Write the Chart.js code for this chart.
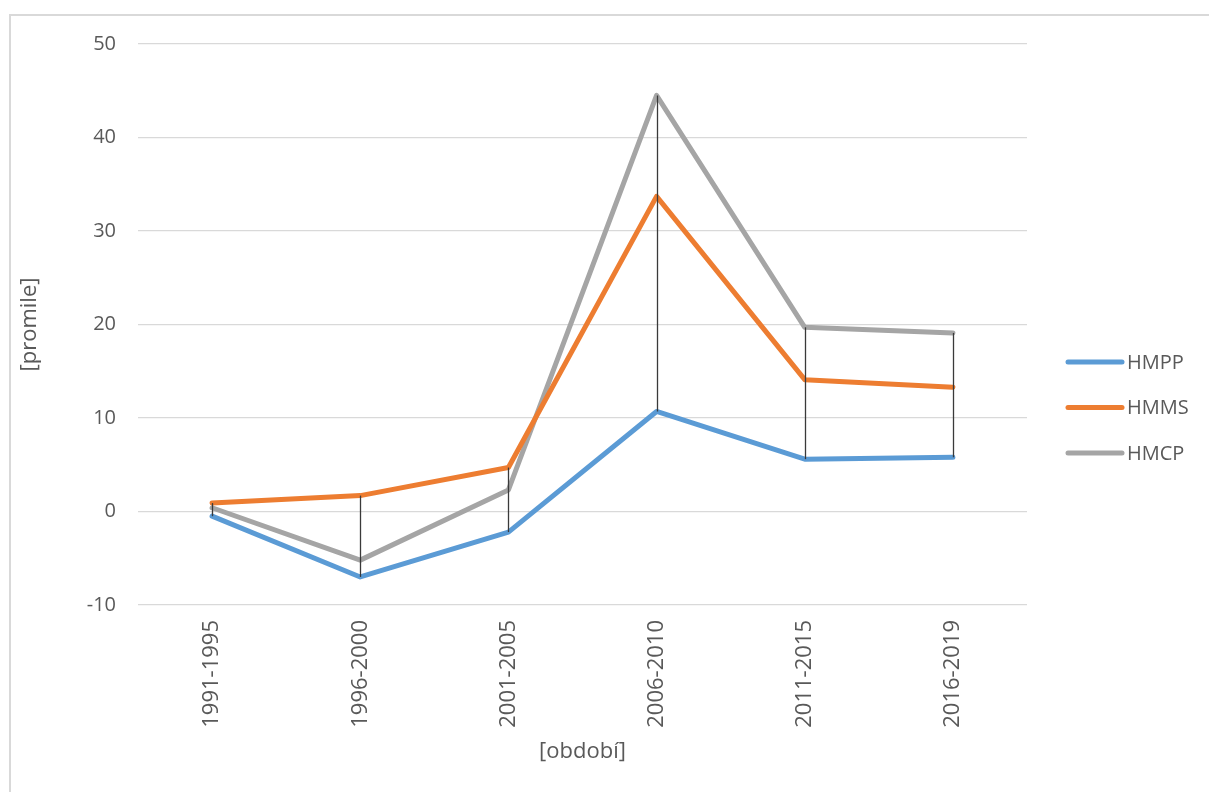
<!DOCTYPE html>
<html>
<head>
<meta charset="utf-8">
<script src="https://cdn.jsdelivr.net/npm/chart.js@4/dist/chart.umd.min.js"></script>
<style>
  html, body { margin: 0; padding: 0; background: #fff; }
  #wrap { position: relative; width: 1209px; height: 792px; overflow: hidden; }
  #frame { position: absolute; left: 9px; top: 14px; width: 1400px; height: 1000px;
           border-left: 2px solid #d9d9d9; border-top: 2px solid #d9d9d9; }
  canvas { position: absolute; left: 0; top: 0; }
</style>
</head>
<body>
<div id="wrap">
  <div id="frame"></div>
  <canvas id="chart" width="1209" height="792"></canvas>
</div>
<script>
// Periods on the category axis
const periods = ['1991-1995', '1996-2000', '2001-2005', '2006-2010', '2011-2015', '2016-2019'];

// Series values in per mille
const hmpp = [-0.5, -7.0, -2.2, 10.7, 5.6, 5.8];
const hmms = [0.9, 1.7, 4.7, 33.7, 14.1, 13.3];
const hmcp = [0.4, -5.2, 2.3, 44.5, 19.7, 19.1];

// Value axis range and step
const yMin = -10;
const yMax = 50;
const yStep = 10;

const FONT = "'Open Sans', 'Liberation Sans', sans-serif";
const TEXT = '#595959';

// Vertical high-low line at each period, from the lowest to the highest series value
const highLowLines = {
  id: 'highLowLines',
  afterDatasetsDraw(chart) {
    const { ctx, scales: { x, y } } = chart;
    const sets = chart.data.datasets.map(d => d.data);
    ctx.save();
    ctx.strokeStyle = '#3a3a3a';
    ctx.lineWidth = 1.3;
    periods.forEach((p, i) => {
      const vals = sets.map(s => s[i]);
      const px = Math.round(x.getPixelForValue(i)) + 0.5;
      ctx.beginPath();
      ctx.moveTo(px, y.getPixelForValue(Math.max(...vals)));
      ctx.lineTo(px, y.getPixelForValue(Math.min(...vals)));
      ctx.stroke();
    });
    ctx.restore();
  }
};

// Legend on the right: short line sample followed by the series name
const sideLegend = {
  id: 'sideLegend',
  afterDraw(chart) {
    const { ctx } = chart;
    const x0 = 1068, len = 54, y0 = 362, gap = 45.5;
    ctx.save();
    ctx.font = '20px ' + FONT;
    ctx.textBaseline = 'middle';
    ctx.textAlign = 'left';
    chart.data.datasets.forEach((ds, i) => {
      const yy = y0 + i * gap;
      ctx.beginPath();
      ctx.strokeStyle = ds.borderColor;
      ctx.lineWidth = ds.borderWidth;
      ctx.lineCap = 'round';
      ctx.moveTo(x0, yy);
      ctx.lineTo(x0 + len, yy);
      ctx.stroke();
      ctx.fillStyle = TEXT;
      ctx.fillText(ds.label, x0 + len + 5, yy + 1);
    });
    ctx.restore();
  }
};

const lineStyle = color => ({
  borderColor: color,
  backgroundColor: color,
  borderWidth: 5,
  borderCapStyle: 'round',
  borderJoinStyle: 'round',
  pointRadius: 0,
  pointHoverRadius: 0,
  tension: 0,
  fill: false
});

new Chart(document.getElementById('chart'), {
  type: 'line',
  data: {
    labels: periods,
    datasets: [
      { label: 'HMPP', data: hmpp, ...lineStyle('#5b9bd5') },
      { label: 'HMMS', data: hmms, ...lineStyle('#ed7d31') },
      { label: 'HMCP', data: hmcp, ...lineStyle('#a5a5a5') }
    ]
  },
  options: {
    responsive: false,
    animation: false,
    devicePixelRatio: 1,
    layout: { padding: { left: 0, top: 44, right: 182, bottom: 0 } },
    plugins: {
      legend: { display: false },
      tooltip: { enabled: false }
    },
    scales: {
      x: {
        offset: true,
        grid: { display: false, drawTicks: false },
        border: { display: false },
        ticks: {
          color: TEXT,
          font: { family: FONT, size: 22 },
          minRotation: 90,
          maxRotation: 90,
          padding: 15
        },
        title: {
          display: true,
          text: '[období]',
          color: TEXT,
          font: { family: FONT, size: 22 },
          padding: { top: 0, bottom: 27 }
        },
        afterFit(scale) { scale.height = 792 - 605; }
      },
      y: {
        min: yMin,
        max: yMax,
        grid: { color: '#d9d9d9', lineWidth: 1.3, drawTicks: false },
        border: { display: false },
        ticks: {
          stepSize: yStep,
          color: TEXT,
          font: { family: FONT, size: 20 },
          padding: 22
        },
        title: {
          display: true,
          text: '[promile]',
          color: TEXT,
          font: { family: FONT, size: 22 },
          padding: { top: 17, bottom: 0 }
        },
        afterFit(scale) { scale.width = 138; }
      }
    }
  },
  plugins: [highLowLines, sideLegend]
});
</script>
</body>
</html>
